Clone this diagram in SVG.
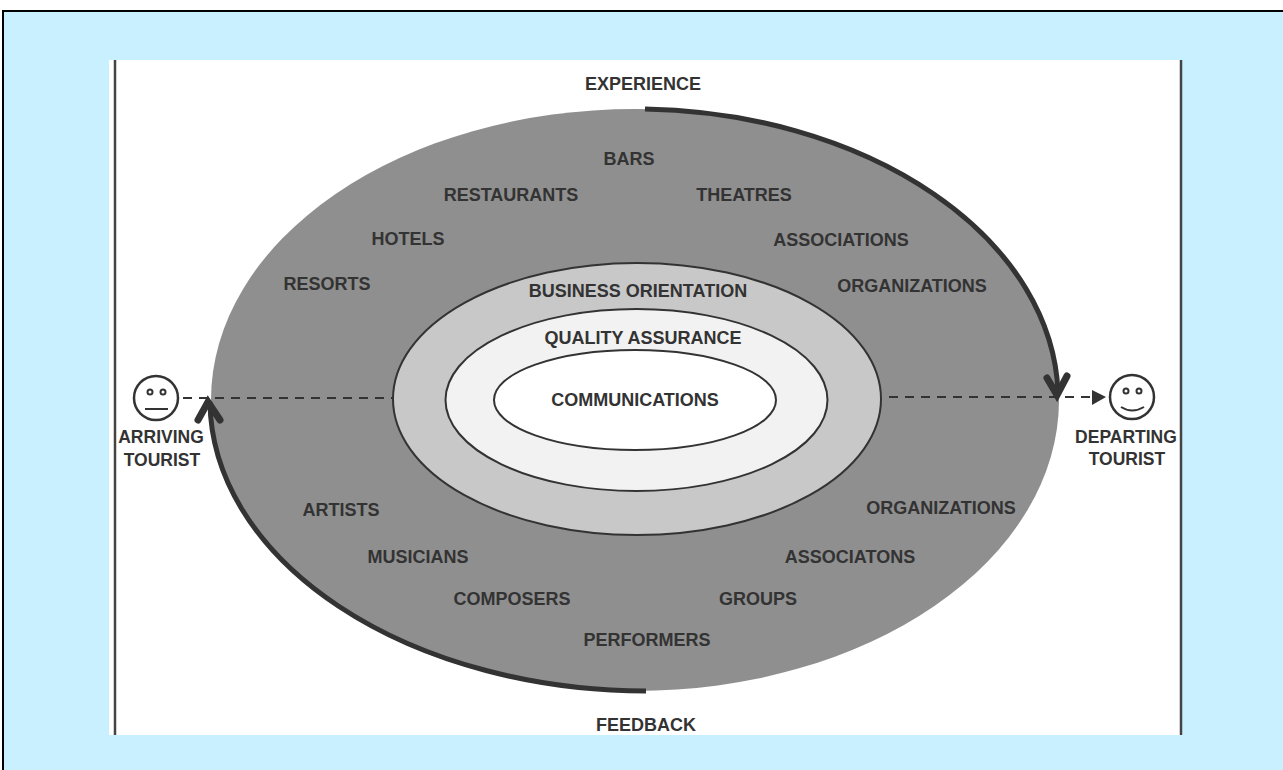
<svg xmlns="http://www.w3.org/2000/svg" width="1283" height="770" viewBox="0 0 1283 770">
<style>
text{font-family:"Liberation Sans",Arial,sans-serif;font-weight:bold;font-size:18px;fill:#333;text-anchor:middle}
.small{font-size:17.500px}
.ring{stroke:#333;stroke-width:2}
.dash{fill:none;stroke:#333;stroke-width:2;stroke-dasharray:9 7}
.flow{fill:none;stroke:#333;stroke-width:5}
.head{fill:none;stroke:#333;stroke-width:7;stroke-linecap:round;stroke-linejoin:miter}
.face{fill:#fff;stroke:#333;stroke-width:2.500}
.feat{fill:none;stroke:#333;stroke-width:2}
</style>
<rect width="1283" height="770" fill="#fff"/>
<rect x="3" y="11" width="1280" height="759" fill="#c8f0ff"/>
<path d="M3 770V11H1283" fill="none" stroke="#000" stroke-width="2"/>
<rect x="109" y="60" width="1073" height="675" fill="#fff"/>
<path d="M115 60V735M1181 60V735" stroke="#444" stroke-width="2.500" fill="none"/>
<g id="experience-ring"><ellipse cx="635" cy="400" rx="424" ry="291" fill="#8f8f8f"/></g>
<g id="business-orientation"><ellipse class="ring" cx="637" cy="399" rx="244" ry="136" fill="#c8c8c8"/><text x="638" y="297">BUSINESS ORIENTATION</text></g>
<g id="quality-assurance"><ellipse class="ring" cx="636.500" cy="400" rx="191" ry="91" fill="#f2f2f2"/><text x="643" y="344">QUALITY ASSURANCE</text></g>
<g id="communications"><ellipse class="ring" cx="635" cy="400" rx="141" ry="50" fill="#fff"/><text x="635" y="406">COMMUNICATIONS</text></g>
<g id="connectors">
<path class="dash" d="M183 398H393"/>
<path class="dash" d="M889 397H1092"/>
<path d="M1092 390L1106 397L1092 405Z" fill="#333"/>
<path class="flow" d="M645 109A424 291 0 0 1 1058 392"/>
<path class="head" d="M1047 378L1057 395L1067 376"/>
<path class="flow" d="M646 691A437 291 0 0 1 210 402"/>
<path class="head" d="M198 420L208 402L220 420"/>
</g>
<g id="arriving-tourist">
<circle class="face" cx="156" cy="398" r="22"/>
<circle class="feat" cx="150" cy="392" r="2.500"/><circle class="feat" cx="163" cy="392" r="2.500"/>
<path class="feat" d="M145 409H168"/>
<text class="small" x="161" y="443">ARRIVING</text><text class="small" x="162" y="466">TOURIST</text>
</g>
<g id="departing-tourist">
<circle class="face" cx="1132" cy="397" r="22"/>
<circle class="feat" cx="1126" cy="391" r="2.500"/><circle class="feat" cx="1139" cy="391" r="2.500"/>
<path class="feat" d="M1121 407Q1132 414 1144 407"/>
<text class="small" x="1126" y="443">DEPARTING</text><text class="small" x="1127" y="465">TOURIST</text>
</g>
<g id="labels">
<text x="643" y="90">EXPERIENCE</text>
<text x="646" y="731">FEEDBACK</text>
<text x="629" y="165">BARS</text>
<text x="511" y="201">RESTAURANTS</text>
<text x="744" y="201">THEATRES</text>
<text x="408" y="245">HOTELS</text>
<text x="841" y="246">ASSOCIATIONS</text>
<text x="327" y="290">RESORTS</text>
<text x="912" y="292">ORGANIZATIONS</text>
<text x="341" y="516">ARTISTS</text>
<text x="941" y="514">ORGANIZATIONS</text>
<text x="418" y="563">MUSICIANS</text>
<text x="850" y="563">ASSOCIATONS</text>
<text x="512" y="605">COMPOSERS</text>
<text x="758" y="605">GROUPS</text>
<text x="647" y="646">PERFORMERS</text>
</g>
</svg>
